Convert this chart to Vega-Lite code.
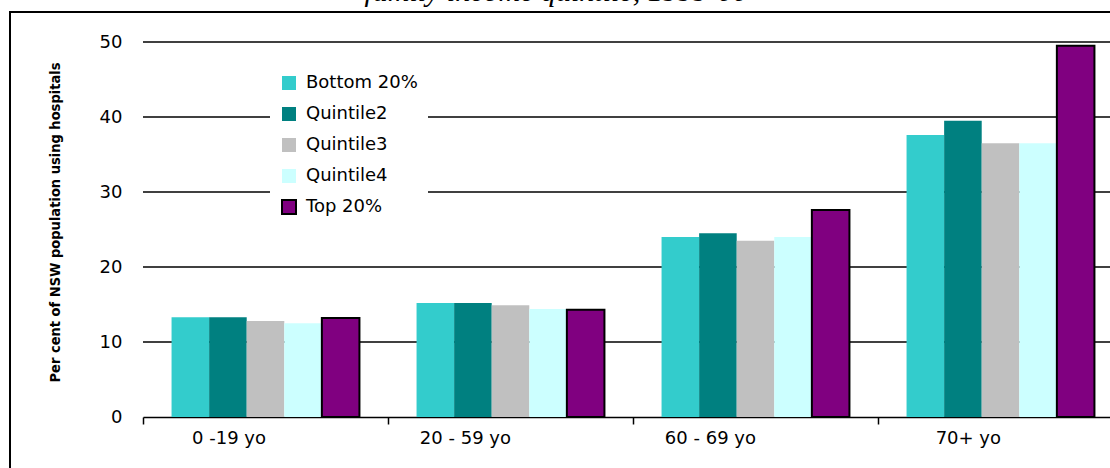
{
  "$schema": "https://vega.github.io/schema/vega-lite/v6.json",
  "width": 1102,
  "height": 458,
  "autosize": "none",
  "padding": {"left": 10, "top": 12, "right": 0, "bottom": 0},
  "background": "white",
  "title": {
    "text": "family income quintile, 1999-00",
    "font": "Liberation Serif",
    "fontStyle": "italic",
    "fontWeight": "normal",
    "fontSize": 30,
    "baseline": "alphabetic",
    "anchor": "middle",
    "frame": "group",
    "offset": 0,
    "dx": -5,
    "dy": 19,
    "color": "black"
  },
  "config": {"view": {"stroke": "black", "strokeWidth": 2}},
  "datasets": {
    "grid": [{"g": 10}, {"g": 20}, {"g": 30}, {"g": 40}, {"g": 50}],
    "bars": [
      {"age": "0 -19 yo", "q": "Bottom 20%", "v": 13.3},
      {"age": "0 -19 yo", "q": "Quintile2", "v": 13.3},
      {"age": "0 -19 yo", "q": "Quintile3", "v": 12.8},
      {"age": "0 -19 yo", "q": "Quintile4", "v": 12.5},
      {"age": "0 -19 yo", "q": "Top 20%", "v": 13.2},
      {"age": "20 - 59 yo", "q": "Bottom 20%", "v": 15.2},
      {"age": "20 - 59 yo", "q": "Quintile2", "v": 15.2},
      {"age": "20 - 59 yo", "q": "Quintile3", "v": 14.9},
      {"age": "20 - 59 yo", "q": "Quintile4", "v": 14.4},
      {"age": "20 - 59 yo", "q": "Top 20%", "v": 14.3},
      {"age": "60 - 69 yo", "q": "Bottom 20%", "v": 24.0},
      {"age": "60 - 69 yo", "q": "Quintile2", "v": 24.5},
      {"age": "60 - 69 yo", "q": "Quintile3", "v": 23.5},
      {"age": "60 - 69 yo", "q": "Quintile4", "v": 24.0},
      {"age": "60 - 69 yo", "q": "Top 20%", "v": 27.6},
      {"age": "70+ yo", "q": "Bottom 20%", "v": 37.6},
      {"age": "70+ yo", "q": "Quintile2", "v": 39.5},
      {"age": "70+ yo", "q": "Quintile3", "v": 36.5},
      {"age": "70+ yo", "q": "Quintile4", "v": 36.5},
      {"age": "70+ yo", "q": "Top 20%", "v": 49.5}
    ]
  },
  "layer": [
    {
      "data": {"name": "grid"},
      "mark": {"type": "rule", "color": "black", "strokeWidth": 1.5},
      "encoding": {
        "y": {
          "field": "g",
          "type": "quantitative",
          "title": "Per cent of NSW population using hospitals",
          "scale": {"domain": [0, 50], "range": [405, 30], "nice": false}
        },
        "x": {"datum": "0 -19 yo", "bandPosition": 0},
        "x2": {"datum": "70+ yo", "bandPosition": 1}
      }
    },
    {
      "data": {"name": "bars"},
      "mark": {"type": "bar", "strokeWidth": 2},
      "encoding": {
        "x": {
          "field": "age",
          "type": "nominal",
          "title": null,
          "scale": {
            "domain": ["0 -19 yo", "20 - 59 yo", "60 - 69 yo", "70+ yo"],
            "range": [133, 1113],
            "paddingInner": 0,
            "paddingOuter": 0
          },
          "axis": {
            "offset": -53,
            "tickBand": "extent",
            "domainColor": "black",
            "domainWidth": 1.5,
            "tickColor": "black",
            "tickWidth": 1.5,
            "tickSize": 7,
            "labelFont": "DejaVu Sans",
            "labelFontSize": 18,
            "labelColor": "black",
            "labelPadding": 14,
            "labelAngle": 0,
            "grid": false
          }
        },
        "xOffset": {
          "field": "q",
          "type": "nominal",
          "sort": ["Bottom 20%", "Quintile2", "Quintile3", "Quintile4", "Top 20%"],
          "scale": {"paddingInner": 0, "paddingOuter": 0.76}
        },
        "y": {
          "field": "v",
          "type": "quantitative",
          "title": "Per cent of NSW population using hospitals",
          "scale": {"domain": [0, 50], "range": [405, 30], "nice": false},
          "axis": {
            "offset": -133,
            "domain": false,
            "ticks": false,
            "tickSize": 0,
            "grid": false,
            "values": [0, 10, 20, 30, 40, 50],
            "labelFont": "DejaVu Sans",
            "labelFontSize": 18,
            "labelColor": "black",
            "labelPadding": 21,
            "titleFont": "Liberation Sans Narrow, DejaVu Sans Condensed, Roboto Condensed, Liberation Sans, sans-serif",
            "titleFontWeight": "bold",
            "titleFontSize": 14.5,
            "titleColor": "black",
            "titleX": -88,
            "titleY": 210,
            "titleAngle": -90,
            "titleAlign": "center",
            "titleBaseline": "middle"
          }
        },
        "color": {
          "field": "q",
          "type": "nominal",
          "scale": {
            "domain": ["Bottom 20%", "Quintile2", "Quintile3", "Quintile4", "Top 20%"],
            "range": ["#33CCCC", "#008080", "#C0C0C0", "#CCFFFF", "#800080"]
          },
          "legend": {
            "orient": "none",
            "legendX": 260,
            "legendY": 52,
            "title": null,
            "fillColor": "white",
            "padding": 10,
            "symbolType": "square",
            "symbolSize": 196,
            "symbolStrokeWidth": 2,
            "labelFont": "DejaVu Sans",
            "labelFontSize": 18,
            "labelColor": "black",
            "labelOffset": 8,
            "rowPadding": 9
          }
        },
        "stroke": {
          "field": "q",
          "type": "nominal",
          "scale": {
            "domain": ["Bottom 20%", "Quintile2", "Quintile3", "Quintile4", "Top 20%"],
            "range": ["transparent", "transparent", "transparent", "transparent", "black"]
          },
          "legend": {
            "orient": "none",
            "legendX": 260,
            "legendY": 52,
            "title": null,
            "fillColor": "white",
            "padding": 10,
            "symbolType": "square",
            "symbolSize": 196,
            "symbolStrokeWidth": 2,
            "labelFont": "DejaVu Sans",
            "labelFontSize": 18,
            "labelColor": "black",
            "labelOffset": 8,
            "rowPadding": 9
          }
        }
      }
    }
  ]
}
